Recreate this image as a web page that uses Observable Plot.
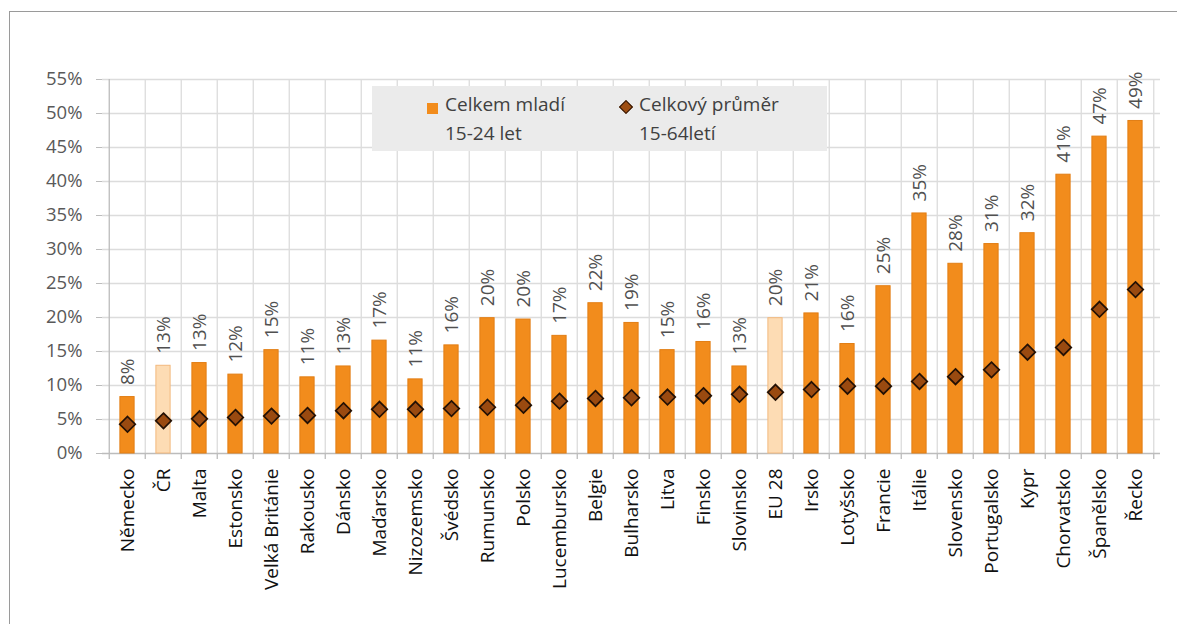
<!DOCTYPE html>
<html>
<head>
<meta charset="utf-8">
<script src="https://cdn.jsdelivr.net/npm/d3@7"></script>
<script src="https://cdn.jsdelivr.net/npm/@observablehq/plot@0.6"></script>
<style>
html, body { margin: 0; padding: 0; background: #fff; overflow: hidden; width: 1177px; height: 624px; }
#wrap { position: relative; width: 1177px; height: 624px; font-family: "Open Sans", sans-serif; }
#frame { position: absolute; left: 9px; top: 11px; width: 1300px; height: 700px; border-left: 1.5px solid #9a9a9a; border-top: 1.5px solid #9a9a9a; }
#chart { position: absolute; left: 0; top: 0; }
#legend { position: absolute; left: 372px; top: 86px; width: 455px; height: 65px; background: #ebebeb; color: #404040; font-size: 19px; }
.ltext { position: absolute; top: 4px; line-height: 28.5px; white-space: nowrap; }
.lsq { position: absolute; left: 55px; top: 17px; width: 11px; height: 11px; background: #F28C1C; }
.ldia { position: absolute; left: 249px; top: 16px; width: 8px; height: 8px; background: #9E4E12; border: 1.3px solid #2a1406; transform: rotate(45deg); }
</style>
</head>
<body>
<div id="wrap">
  <div id="frame"></div>
  <div id="chart"></div>
  <div id="legend">
    <div class="lsq"></div>
    <div class="ltext" style="left:73px">Celkem mladí<br>15-24 let</div>
    <div class="ldia"></div>
    <div class="ltext" style="left:267px">Celkový průměr<br>15-64letí</div>
  </div>
</div>
<script>
const countries = ["Německo","ČR","Malta","Estonsko","Velká Británie","Rakousko","Dánsko","Maďarsko","Nizozemsko","Švédsko","Rumunsko","Polsko","Lucembursko","Belgie","Bulharsko","Litva","Finsko","Slovinsko","EU 28","Irsko","Lotyšsko","Francie","Itálie","Slovensko","Portugalsko","Kypr","Chorvatsko","Španělsko","Řecko"];
const youth = [8.3,12.9,13.3,11.6,15.2,11.2,12.8,16.6,10.9,15.9,19.9,19.7,17.3,22.1,19.2,15.2,16.4,12.8,19.9,20.6,16.1,24.6,35.3,27.9,30.8,32.4,41.0,46.6,48.9];
const overall = [4.3,4.8,5.1,5.3,5.5,5.6,6.3,6.5,6.5,6.6,6.8,7.1,7.7,8.1,8.2,8.3,8.5,8.7,9.0,9.4,9.9,9.9,10.6,11.3,12.3,14.9,15.6,21.2,24.1];
const highlighted = ["ČR","EU 28"];
const yTicks = [0,5,10,15,20,25,30,35,40,45,50,55];

const data = countries.map((c, i) => ({country: c, youth: youth[i], overall: overall[i], hi: highlighted.includes(c)}));

const W = 1177, H = 624, ml = 102, mr = 17, mt = 79, mb = 171;
const step = (W - ml - mr) / countries.length;
const barW = 14.7;
const inset = (step - barW) / 2;
const last = countries[countries.length - 1];

const chart = Plot.plot({
  width: W, height: H,
  marginLeft: ml, marginRight: mr, marginTop: mt, marginBottom: mb,
  style: {fontFamily: "'Open Sans', sans-serif", background: "transparent", overflow: "visible"},
  x: {domain: countries, padding: 0, label: null},
  y: {domain: [0, 55], label: null},
  marks: [
    Plot.ruleY(yTicks.slice(1), {stroke: "#dcdcdc", strokeWidth: 1.3}),
    Plot.ruleX(countries.slice(1), {y1: 0, y2: 55, dx: -step / 2, stroke: "#dcdcdc", strokeWidth: 1.3}),
    Plot.ruleX([last], {y1: 0, y2: 55, dx: step / 2, stroke: "#dcdcdc", strokeWidth: 1.3}),
    Plot.ruleX(countries, {y1: 0, y2: 0, insetBottom: -6, dx: -step / 2, stroke: "#bcbcbc", strokeWidth: 1.3}),
    Plot.ruleX([last], {y1: 0, y2: 0, insetBottom: -6, dx: step / 2, stroke: "#bcbcbc", strokeWidth: 1.3}),
    Plot.ruleX([countries[0]], {y1: 0, y2: 55, dx: -step / 2, stroke: "#bcbcbc", strokeWidth: 1.3}),
    Plot.ruleY([0], {stroke: "#bcbcbc", strokeWidth: 1.3}),
    Plot.axisY({ticks: yTicks, tickFormat: d => d + "%", tickSize: 6, tickPadding: 14, fontSize: 18.5, stroke: "#bcbcbc", fill: "#595959", label: null}),
    Plot.axisX({tickRotate: -90, tickSize: 0, tickPadding: 15, fontSize: 19, fill: "#111", label: null}),
    Plot.barY(data, {x: "country", y: "youth",
      fill: d => d.hi ? "#FDDCB4" : "#F28C1C",
      stroke: d => d.hi ? "#F2B97E" : "#E27E14",
      strokeWidth: 1, insetLeft: inset, insetRight: inset}),
    Plot.text(data, {x: "country", y: "youth", text: d => Math.round(d.youth) + "%",
      rotate: -90, textAnchor: "start", lineAnchor: "middle", dy: -12, fontSize: 19, fill: "#505050"}),
    Plot.dot(data, {x: "country", y: "overall", symbol: "diamond2", r: 7,
      fill: "#9A4A10", stroke: "#231004", strokeWidth: 1.7})
  ]
});
document.getElementById("chart").appendChild(chart);
</script>
</body>
</html>
